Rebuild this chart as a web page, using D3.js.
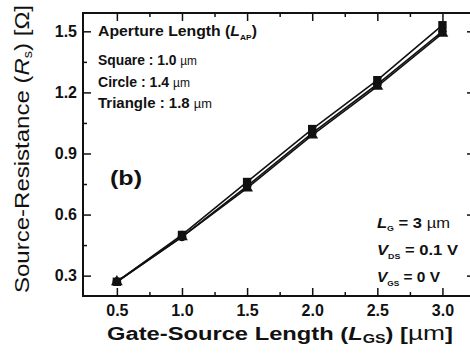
<!DOCTYPE html>
<html>
<head>
<meta charset="utf-8">
<script src="https://cdn.jsdelivr.net/npm/d3@7"></script>
<style>
  body { margin: 0; background: #fff; }
  text { font-family: Arial, "Liberation Sans", sans-serif; fill: #111; }
</style>
</head>
<body>
<div id="chart"></div>
<script>
const width = 470, height = 361;
const margin = { top: 13, right: -5, bottom: 65, left: 83 };
const innerWidth = width - margin.left - margin.right;
const innerHeight = height - margin.top - margin.bottom;

// data
const lengths = [0.5, 1.0, 1.5, 2.0, 2.5, 3.0];
const square = [0.27, 0.50, 0.76, 1.02, 1.26, 1.53];
const circle = [0.27, 0.49, 0.74, 1.00, 1.24, 1.50];
const triangle = [0.27, 0.49, 0.73, 0.99, 1.23, 1.49];
const xTicks = [0.5, 1.0, 1.5, 2.0, 2.5, 3.0];
const yTicks = [0.3, 0.6, 0.9, 1.2, 1.5];

const series = [
  { key: "square", values: square, symbol: d3.symbolSquare, size: 70 },
  { key: "circle", values: circle, symbol: d3.symbolCircle, size: 60 },
  { key: "triangle", values: triangle, symbol: d3.symbolTriangle, size: 60 }
];

const svg = d3.select("#chart").append("svg")
  .attr("width", width).attr("height", height);

const innerChart = svg.append("g")
  .attr("transform", `translate(${margin.left}, ${margin.top})`);

const xScale = d3.scaleLinear().domain([0.24, 3.25]).range([0, innerWidth]);
const yScale = d3.scaleLinear().domain([0.2, 1.59]).range([innerHeight, 0]);

/*   frame + ticks (inward)   */
const minorX = d3.range(0.75, 3.25, 0.5);
const minorY = d3.range(0.45, 1.6, 0.3);

const axisStyle = g => {
  g.select(".domain").remove();
  g.selectAll("line").attr("stroke", "#111").attr("stroke-width", 1.5);
  g.selectAll("text").attr("font-size", 16).attr("font-weight", "bold");
};
const noLabels = g => {
  g.select(".domain").remove();
  g.selectAll("text").remove();
  g.selectAll("line").attr("stroke", "#111").attr("stroke-width", 1.5);
};

innerChart.append("g")
  .attr("transform", `translate(0, ${innerHeight})`)
  .call(d3.axisBottom(xScale).tickValues(xTicks).tickFormat(d3.format(".1f"))
    .tickSizeInner(-8).tickSizeOuter(0).tickPadding(9))
  .call(axisStyle);
innerChart.append("g")
  .attr("transform", `translate(0, ${innerHeight})`)
  .call(d3.axisBottom(xScale).tickValues(minorX).tickSizeInner(-4).tickSizeOuter(0))
  .call(noLabels);
innerChart.append("g")
  .call(d3.axisTop(xScale).tickValues(xTicks).tickSizeInner(-8).tickSizeOuter(0))
  .call(noLabels);
innerChart.append("g")
  .call(d3.axisTop(xScale).tickValues(minorX).tickSizeInner(-4).tickSizeOuter(0))
  .call(noLabels);

innerChart.append("g")
  .call(d3.axisLeft(yScale).tickValues(yTicks).tickFormat(d3.format(".1f"))
    .tickSizeInner(-8).tickSizeOuter(0).tickPadding(6))
  .call(axisStyle);
innerChart.append("g")
  .call(d3.axisLeft(yScale).tickValues(minorY).tickSizeInner(-4).tickSizeOuter(0))
  .call(noLabels);
innerChart.append("g")
  .attr("transform", `translate(${innerWidth}, 0)`)
  .call(d3.axisRight(yScale).tickValues(yTicks).tickSizeInner(-8).tickSizeOuter(0))
  .call(noLabels);

innerChart.append("rect")
  .attr("width", innerWidth).attr("height", innerHeight)
  .attr("fill", "none").attr("stroke", "#111").attr("stroke-width", 2);

/*   lines + markers   */
const line = d3.line()
  .x((d, i) => xScale(lengths[i]))
  .y(d => yScale(d));

series.forEach(s => {
  innerChart.append("path")
    .attr("d", line(s.values))
    .attr("fill", "none")
    .attr("stroke", "#111")
    .attr("stroke-width", 1.6);
});

series.forEach(s => {
  innerChart.selectAll(`.pt-${s.key}`)
    .data(s.values)
    .join("path")
      .attr("class", `pt-${s.key}`)
      .attr("transform", (d, i) => `translate(${xScale(lengths[i])}, ${yScale(d)})`)
      .attr("d", d3.symbol(s.symbol, s.size))
      .attr("fill", "#111");
});

/*   annotations   */
const legend = innerChart.append("g").attr("font-weight", "bold");
const t0 = legend.append("text").attr("x", 15).attr("y", 23)
  .attr("font-size", 15).attr("textLength", 159).attr("lengthAdjust", "spacingAndGlyphs");
t0.append("tspan").text("Aperture Length (");
t0.append("tspan").attr("font-style", "italic").text("L");
t0.append("tspan").attr("font-size", 8).attr("dy", 4).text("AP");
t0.append("tspan").attr("dy", -4).text(")");

[["Square : 1.0 ", 52, 99], ["Circle : 1.4 ", 74, 92], ["Triangle : 1.8 ", 95, 114]].forEach(([t, y, w]) => {
  const tx = legend.append("text").attr("x", 15).attr("y", y)
    .attr("font-size", 14).attr("textLength", w).attr("lengthAdjust", "spacingAndGlyphs");
  tx.append("tspan").text(t);
  tx.append("tspan").attr("font-weight", "normal").attr("font-size", 12).text("\u00b5m");
});

innerChart.append("text")
  .attr("x", 27).attr("y", 172)
  .attr("font-size", 21).attr("font-weight", "bold")
  .attr("textLength", 32).attr("lengthAdjust", "spacingAndGlyphs")
  .text("(b)");

const cond = innerChart.append("g").attr("font-size", 15).attr("font-weight", "bold");
const c1 = cond.append("text").attr("x", 294).attr("y", 215)
  .attr("textLength", 73).attr("lengthAdjust", "spacingAndGlyphs");
c1.append("tspan").attr("font-style", "italic").text("L");
c1.append("tspan").attr("font-size", 8).attr("dy", 3).text("G");
c1.append("tspan").attr("dy", -3).text(" = 3 ");
c1.append("tspan").attr("font-weight", "normal").text("\u00b5m");

const c2 = cond.append("text").attr("x", 294).attr("y", 242)
  .attr("textLength", 81).attr("lengthAdjust", "spacingAndGlyphs");
c2.append("tspan").attr("font-style", "italic").text("V");
c2.append("tspan").attr("font-size", 8).attr("dy", 4).text("DS");
c2.append("tspan").attr("dy", -4).text(" = 0.1 V");

const c3 = cond.append("text").attr("x", 294).attr("y", 269)
  .attr("textLength", 63).attr("lengthAdjust", "spacingAndGlyphs");
c3.append("tspan").attr("font-style", "italic").text("V");
c3.append("tspan").attr("font-size", 8).attr("dy", 4).text("GS");
c3.append("tspan").attr("dy", -4).text(" = 0 V");

/*   axis titles   */
const xt = svg.append("text")
  .attr("x", 107).attr("y", 340)
  .attr("font-size", 18).attr("font-weight", "bold")
  .attr("textLength", 346).attr("lengthAdjust", "spacingAndGlyphs");
xt.append("tspan").text("Gate-Source Length (");
xt.append("tspan").attr("font-style", "italic").text("L");
xt.append("tspan").attr("font-size", 12).attr("dy", 3).text("GS");
xt.append("tspan").attr("dy", -3).text(") [");
xt.append("tspan").attr("font-weight", "normal").attr("font-size", 20).text("\u00b5m");
xt.append("tspan").text("]");

const yt = svg.append("text")
  .attr("transform", `translate(29, 293) rotate(-90)`)
  .attr("font-size", 20)
  .attr("textLength", 288).attr("lengthAdjust", "spacingAndGlyphs");
yt.append("tspan").text("Source-Resistance (");
yt.append("tspan").attr("font-style", "italic").text("R");
yt.append("tspan").attr("font-size", 12).attr("dy", 3).text("s");
yt.append("tspan").attr("dy", -3).text(") [\u03a9]");
</script>
</body>
</html>
